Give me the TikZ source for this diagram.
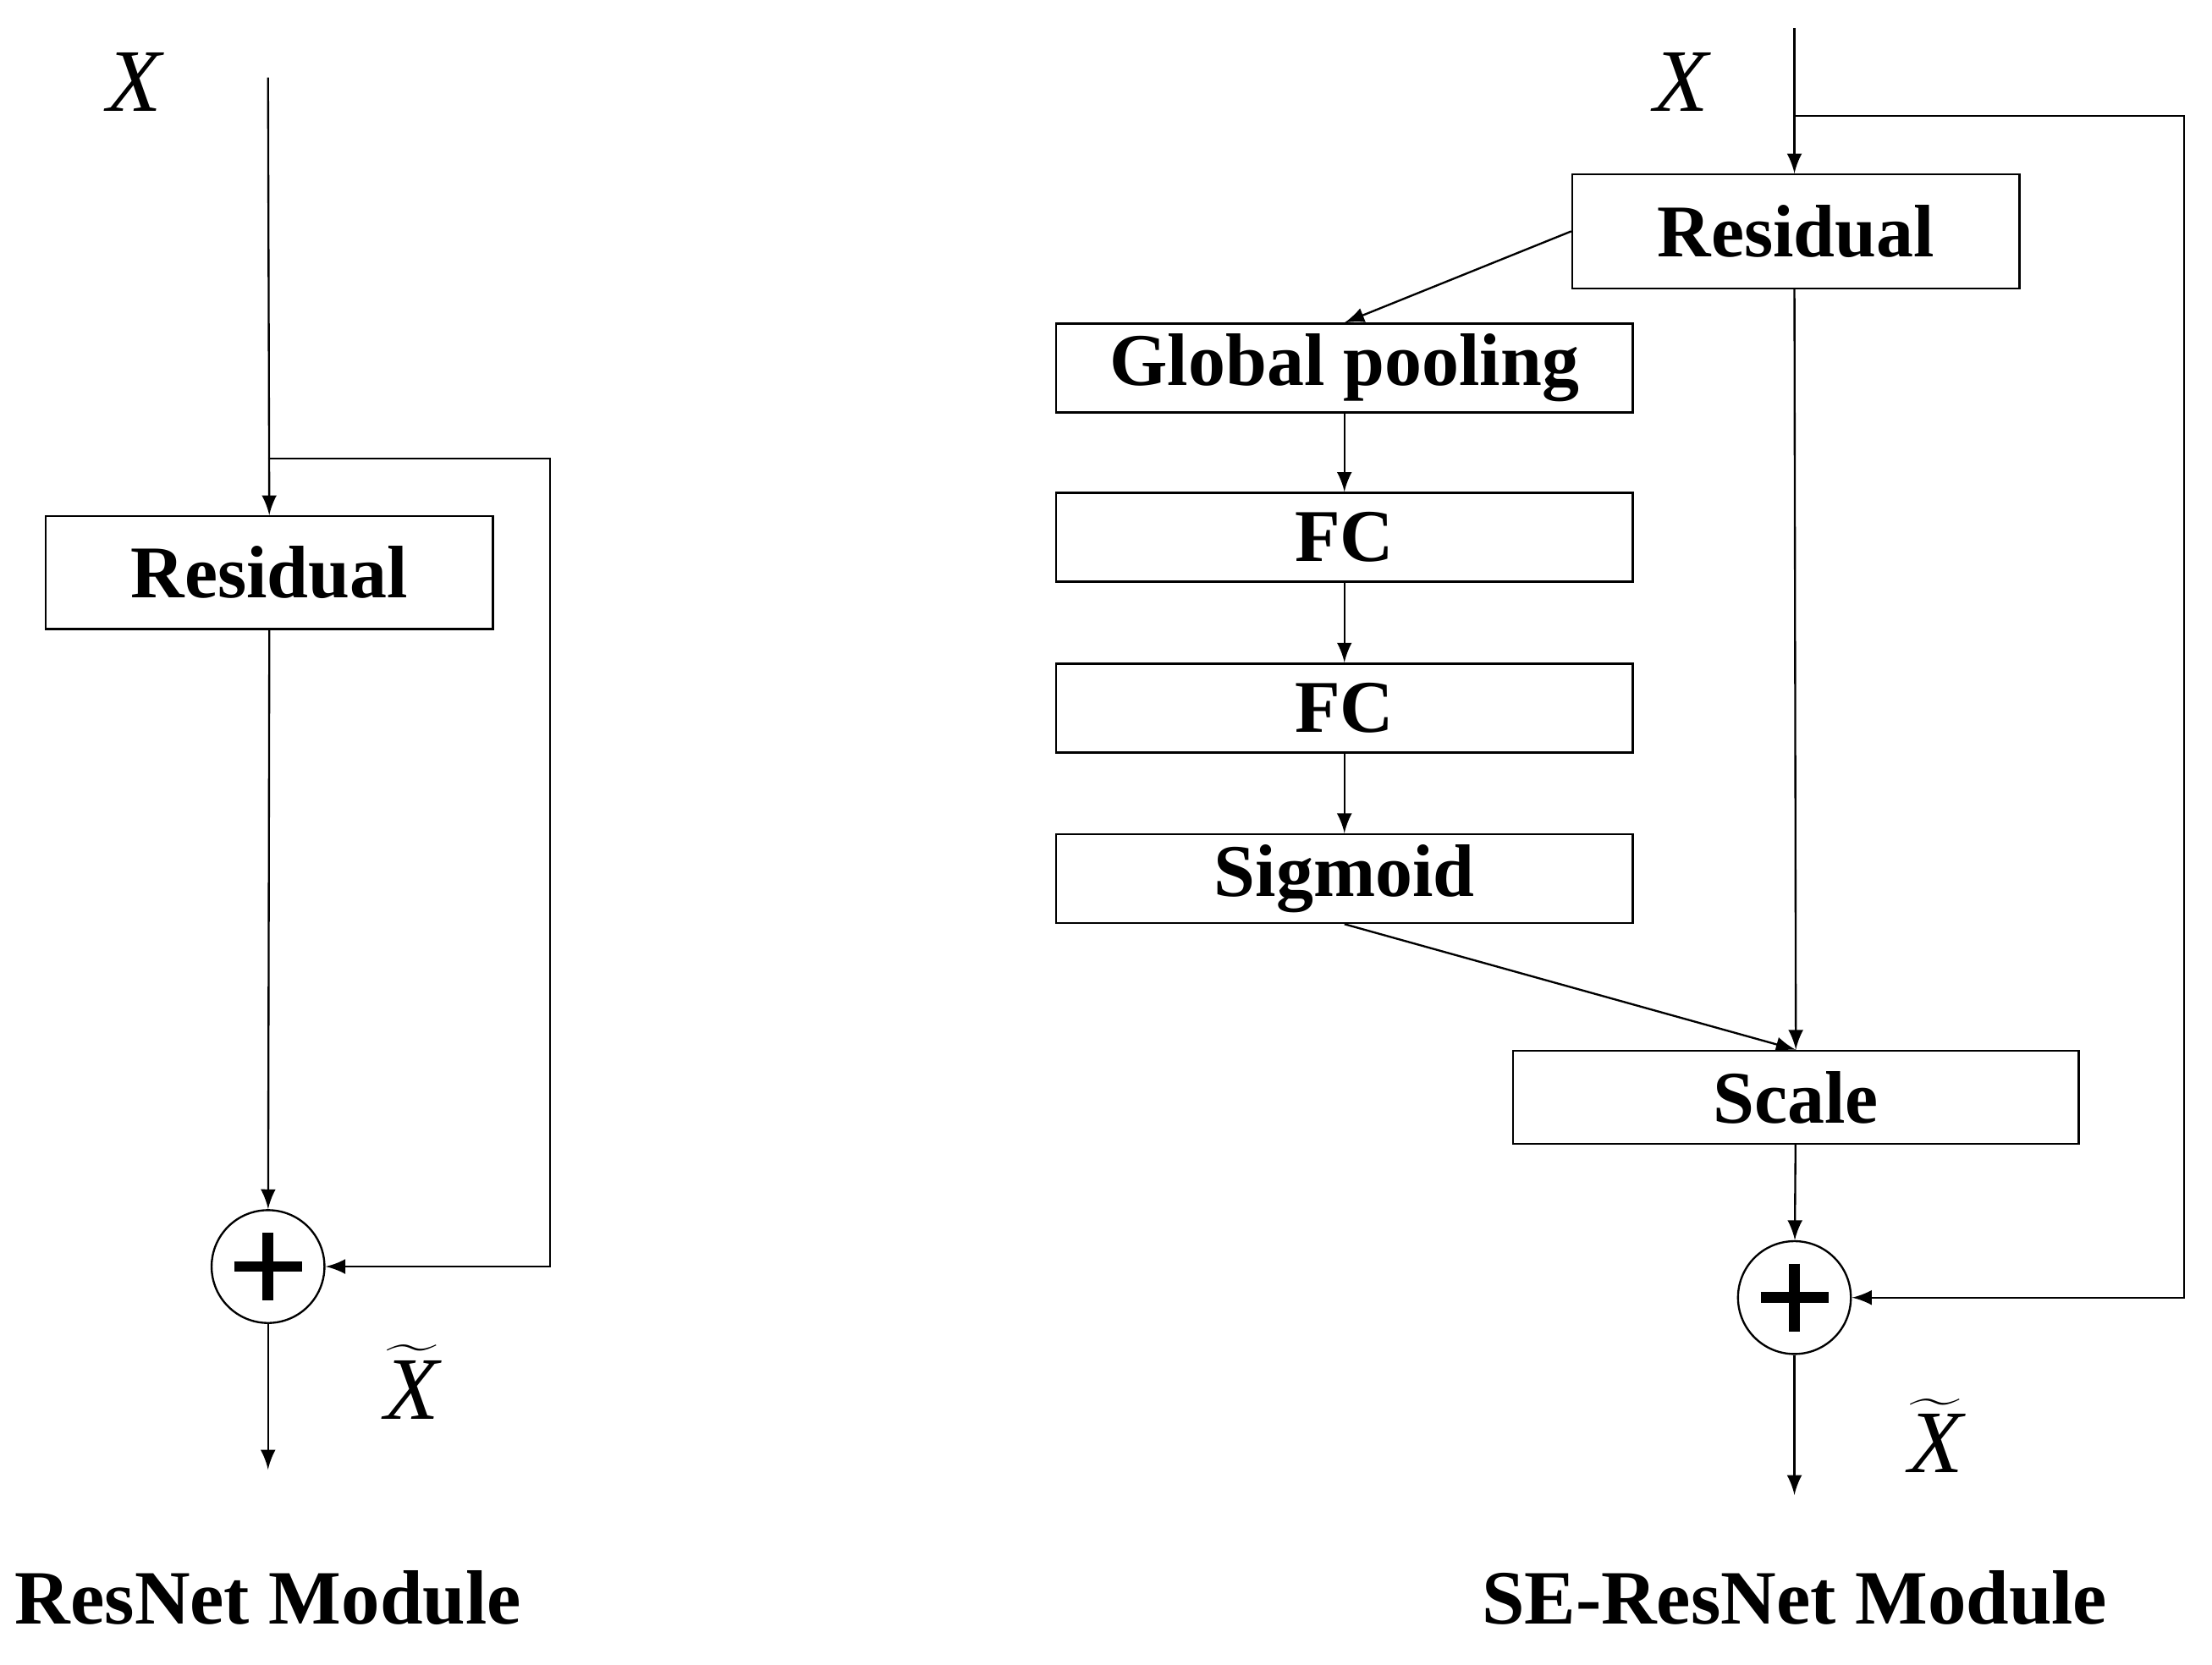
\documentclass[tikz,border=0pt]{standalone}
\usepackage{fontspec}
\setmainfont{Liberation Serif}
\usetikzlibrary{arrows,shapes,positioning,calc}
\begin{document}
\begin{tikzpicture}[x=0.1mm,y=-0.1mm,>=latex,
  box/.style={draw, rectangle, inner sep=0pt, font=\fontsize{15}{17}\selectfont\bfseries},
  sum/.style={draw, circle, minimum size=80*0.1mm, inner sep=0pt},
  lbl/.style={font=\fontsize{18}{20}\selectfont\itshape},
  title/.style={font=\fontsize{15.5}{18}\selectfont\bfseries}]
        \useasboundingbox (0,0) rectangle (1568,1180);
        % ResNet module
        \node[box, minimum width=317*0.1mm, minimum height=80*0.1mm] (res1) at (191,406) {Residual};
        \node[sum] (sum1) at (190,898) {};
        \draw[line width=2.2pt] ($(sum1)+(-24,0)$) -- ($(sum1)+(24,0)$) ($(sum1)+(0,-24)$) -- ($(sum1)+(0,24)$);
        \coordinate (in1) at (190,55);
        \coordinate (br1) at (190,325);
        \coordinate (out1) at (190,1042);
        \node[lbl] (x1) at (95,58) {X};
        \node[lbl] (xt1) at (292,980) {$\widetilde{\mbox{\itshape X}}$};
        \node[title] (c1) at (190,1133) {ResNet Module};
        \draw[->] (in1) -- (res1);
        \draw[->] (res1) -- (sum1);
        \draw[->] (br1) -- (390,325) -- (390,898) -- (sum1);
        \draw[->] (sum1) -- (out1);

        % SE-ResNet module
        \node[box, minimum width=317*0.1mm, minimum height=81*0.1mm] (res2) at (1273,164) {Residual};
        \node[box, minimum width=409*0.1mm, minimum height=63*0.1mm] (gp) at (953,261) {Global pooling};
        \node[box, minimum width=409*0.1mm, minimum height=63*0.1mm] (fc1) at (953,381) {FC};
        \node[box, minimum width=409*0.1mm, minimum height=63*0.1mm] (fc2) at (953,502) {FC};
        \node[box, minimum width=409*0.1mm, minimum height=63*0.1mm] (sig) at (953,623) {Sigmoid};
        \node[box, minimum width=401*0.1mm, minimum height=66*0.1mm] (scale) at (1273,778) {Scale};
        \node[sum] (sum2) at (1272,920) {};
        \draw[line width=2.2pt] ($(sum2)+(-24,0)$) -- ($(sum2)+(24,0)$) ($(sum2)+(0,-24)$) -- ($(sum2)+(0,24)$);
        \coordinate (in2) at (1272,20);
        \coordinate (br2) at (1272,82);
        \coordinate (out2) at (1272,1060);
        \node[lbl] (x2) at (1192,58) {X};
        \node[lbl] (xt2) at (1372,1018) {$\widetilde{\mbox{\itshape X}}$};
        \node[title] (c2) at (1272,1133) {SE-ResNet Module};
        \draw[->] (in2) -- (1272,123);
        \draw[->] (res2.west) -- (gp.north);
        \draw[->] (gp) -- (fc1);
        \draw[->] (fc1) -- (fc2);
        \draw[->] (fc2) -- (sig);
        \draw[->] (sig.south) -- (scale.north);
        \draw[->] (1272,204) -- (scale.north);
        \draw[->] (scale) -- (sum2);
        \draw[->] (br2) -- (1548,82) -- (1548,920) -- (sum2);
        \draw[->] (sum2) -- (out2);
\end{tikzpicture}
\end{document}
